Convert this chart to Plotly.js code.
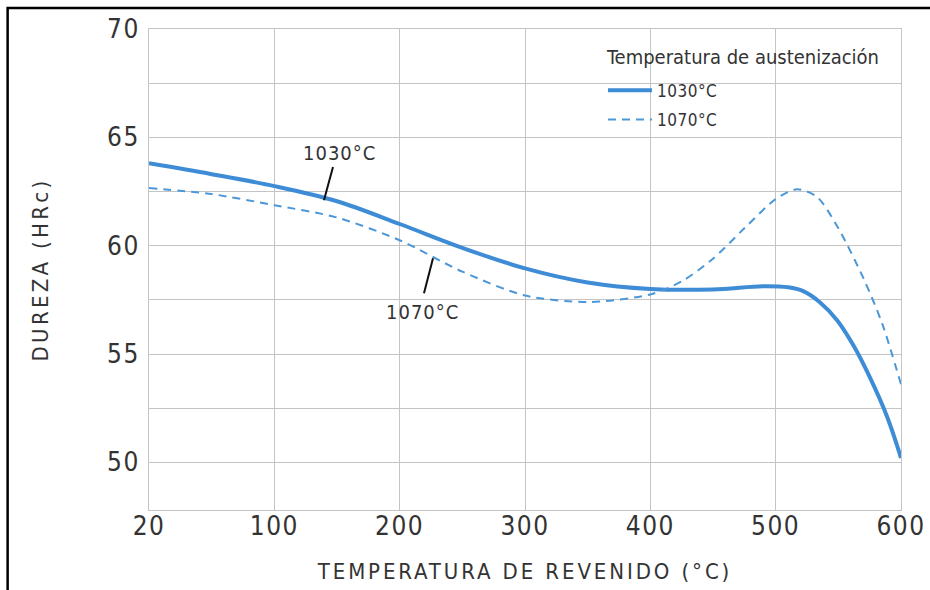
<!DOCTYPE html>
<html>
<head>
<meta charset="utf-8">
<script src="https://cdn.plot.ly/plotly-3.0.1.min.js"></script>
<style>
  html, body { margin: 0; padding: 0; background: #fff; }
  #chart { width: 930px; height: 590px; }
  svg text { font-stretch: condensed; }
  .xtick text, .ytick text { letter-spacing: 1.5px; }
  .xtitle { letter-spacing: 2.9px; }
  .ytitle { letter-spacing: 3.3px; }
  .legendtext { letter-spacing: 0.5px; }
  .annotation .annotation-text { letter-spacing: 1px; }
  .annotation[data-index="0"] .annotation-text { letter-spacing: 0px; }
</style>
</head>
<body>
<div id="chart"></div>
<script>
// Axis position 0 is the left edge of the chart, labelled "20" °C
const xTickVals = [0, 100, 200, 300, 400, 500, 600];
const xTickText = ["20", "100", "200", "300", "400", "500", "600"];
const yTickVals = [50, 55, 60, 65, 70];

const legendTitle = "Temperatura de austenización";
const seriesNames = ["1030°C", "1070°C"];

const x1030 = [0, 50, 100, 150, 200, 250, 300, 350, 400, 450, 490, 510, 522, 535, 549, 562, 575, 589, 600];
const y1030 = [63.8, 63.3, 62.75, 62.05, 61.0, 59.9, 58.95, 58.3, 58.0, 57.98, 58.13, 58.08, 57.9, 57.4, 56.56, 55.4, 53.94, 52.09, 50.2];

const x1070 = [0, 50, 100, 150, 200, 250, 300, 350, 400, 425, 450, 475, 500, 517, 533, 550, 570, 585, 600];
const y1070 = [62.66, 62.38, 61.87, 61.3, 60.25, 58.8, 57.7, 57.4, 57.75, 58.35, 59.4, 60.8, 62.15, 62.6, 62.25, 60.8, 58.5, 56.4, 53.6];

const lineColor = "#3d8cd5";
const textColor = "#333333";
const gridColor = "#c4c4c4";
const fontFam = "'DejaVu Sans', sans-serif";

const traces = [
  { x: x1030, y: y1030, name: seriesNames[0], mode: "lines", type: "scatter", legendgroup: "a",
    line: { color: lineColor, width: 4, shape: "spline", smoothing: 1 } },
  { x: x1070, y: y1070, name: seriesNames[1], mode: "lines", type: "scatter", legendgroup: "b",
    line: { color: "#4b97d8", width: 2, dash: "8px,6px", shape: "spline", smoothing: 0.8 } }
];

const layout = {
  width: 930, height: 590,
  margin: { l: 149, r: 29, t: 29, b: 80 },
  paper_bgcolor: "#ffffff", plot_bgcolor: "#ffffff",
  font: { family: fontFam, color: textColor },
  showlegend: true,
  legend: {
    x: 0.6037, y: 0.909, xanchor: "left", yanchor: "top",
    bgcolor: "rgba(0,0,0,0)", borderwidth: 0,
    font: { size: 17, color: textColor, family: fontFam },
    itemwidth: 44, tracegroupgap: 4
  },
  xaxis: {
    range: [0, 600], tickmode: "array", tickvals: xTickVals, ticktext: xTickText,
    showgrid: true, gridcolor: gridColor, gridwidth: 1,
    showline: true, linecolor: gridColor, linewidth: 1, mirror: true,
    zeroline: false, ticks: "", ticklabelstandoff: -7,
    tickfont: { size: 26, color: textColor, family: fontFam },
    title: { text: "TEMPERATURA DE REVENIDO (°C)", font: { size: 22, color: textColor, family: fontFam }, standoff: 23 }
  },
  yaxis: {
    range: [47.8, 70], tickmode: "array", tickvals: yTickVals,
    showgrid: true, gridcolor: gridColor, gridwidth: 1,
    minor: { tickmode: "linear", tick0: 47.5, dtick: 5, showgrid: true, gridcolor: gridColor, gridwidth: 1, ticks: "" },
    showline: true, linecolor: gridColor, linewidth: 1, mirror: true,
    zeroline: false, ticks: "", ticklabelstandoff: 3,
    tickfont: { size: 26, color: textColor, family: fontFam },
    title: { text: "DUREZA (HRc)", font: { size: 22, color: textColor, family: fontFam }, standoff: 52 }
  },
  annotations: [
    { x: 0.605, y: 0.9418, xref: "paper", yref: "paper", xanchor: "left", yanchor: "middle",
      text: legendTitle, showarrow: false,
      font: { size: 20, color: textColor, family: fontFam } },
    { x: 152, y: 64.3, xref: "x", yref: "y", text: "1030°C", showarrow: false,
      font: { size: 20, color: textColor, family: fontFam } },
    { x: 218, y: 56.93, xref: "x", yref: "y", text: "1070°C", showarrow: false,
      font: { size: 20, color: textColor, family: fontFam } }
  ],
  shapes: [
    { type: "line", xref: "x", yref: "y", x0: 146.8, y0: 63.63, x1: 139.6, y1: 62.1,
      line: { color: "#111111", width: 2 } },
    { type: "line", xref: "x", yref: "y", x0: 226.6, y0: 59.42, x1: 219.4, y1: 57.8,
      line: { color: "#111111", width: 2 } },
    { type: "rect", xref: "paper", yref: "paper", x0: -0.188, x1: 1.06, y0: -0.2, y1: 1.0435,
      line: { color: "#000000", width: 2.5 }, layer: "above" }
  ]
};

Plotly.newPlot("chart", traces, layout, { displayModeBar: false, staticPlot: true });
</script>
</body>
</html>
